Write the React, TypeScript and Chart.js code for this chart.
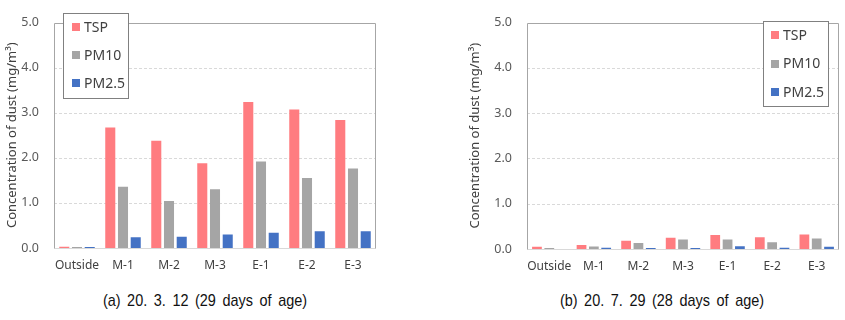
import React, { useEffect, useRef } from "react";
import { Chart, registerables } from "chart.js";

Chart.register(...registerables);

// Sampling points and series
const categories = ["Outside", "M-1", "M-2", "M-3", "E-1", "E-2", "E-3"];
const seriesNames = ["TSP", "PM10", "PM2.5"];
const seriesColors = ["#FF7C80", "#A5A5A5", "#4472C4"];

// (a) 20. 3. 12 — mg/m³
const marchTSP = [0.03, 2.67, 2.38, 1.88, 3.24, 3.07, 2.84];
const marchPM10 = [0.02, 1.36, 1.04, 1.3, 1.92, 1.55, 1.76];
const marchPM25 = [0.02, 0.24, 0.25, 0.3, 0.34, 0.37, 0.37];

// (b) 20. 7. 29 — mg/m³
const julyTSP = [0.05, 0.09, 0.18, 0.25, 0.31, 0.26, 0.32];
const julyPM10 = [0.02, 0.055, 0.13, 0.21, 0.21, 0.15, 0.23];
const julyPM25 = [0, 0.03, 0.02, 0.02, 0.06, 0.03, 0.05];

const yMin = 0;
const yMax = 5;
const yStep = 1;
const yAxisTitle = "Concentration of dust (mg/m³)";
const captions = ["(a) 20. 3. 12 (29 days of age)", "(b) 20. 7. 29 (28 days of age)"];

const FONT = "'Noto Sans', 'Open Sans', sans-serif";

type Panel = {
  left: number;
  width: number;
  height: number;
  padLeft: number;
  padRight: number;
  padTop: number;
  yWidth: number;
  xHeight: number;
  legend: { x: number; y: number; w: number; h: number; sq: number; tx: number; row0: number; gap: number };
  values: number[][];
};

const panels: Panel[] = [
  {
    left: 0,
    width: 420,
    height: 285,
    padLeft: 0,
    padRight: 44,
    padTop: 8,
    yWidth: 54,
    xHeight: 37,
    legend: { x: 63, y: 13, w: 65, h: 85, sq: 9, tx: 21, row0: 14, gap: 28 },
    values: [marchTSP, marchPM10, marchPM25],
  },
  {
    left: 420,
    width: 425,
    height: 285,
    padLeft: 43,
    padRight: 6,
    padTop: 8,
    yWidth: 64,
    xHeight: 36,
    legend: { x: 343, y: 21, w: 65, h: 85, sq: 8, tx: 20, row0: 14, gap: 28.5 },
    values: [julyTSP, julyPM10, julyPM25],
  },
];

// Dashed horizontal grid plus the plot frame
const framePlugin = {
  id: "plotFrame",
  beforeDatasetsDraw(chart: any) {
    const { ctx, chartArea } = chart;
    const y = chart.scales.y;
    ctx.save();
    ctx.strokeStyle = "#D9D9D9";
    ctx.lineWidth = 1;
    ctx.setLineDash([3, 2]);
    for (let v = yMin + yStep; v < yMax; v += yStep) {
      const py = Math.round(y.getPixelForValue(v)) + 0.5;
      ctx.beginPath();
      ctx.moveTo(chartArea.left, py);
      ctx.lineTo(chartArea.right, py);
      ctx.stroke();
    }
    ctx.restore();
  },
  afterDatasetsDraw(chart: any) {
    const { ctx, chartArea } = chart;
    const y = chart.scales.y;
    const top = Math.round(y.getPixelForValue(yMax)) + 0.5;
    const bottom = Math.round(y.getPixelForValue(yMin)) + 0.5;
    const l = Math.round(chartArea.left) + 0.5;
    const r = Math.round(chartArea.right) - 0.5;
    ctx.save();
    ctx.setLineDash([]);
    ctx.lineWidth = 1;
    ctx.strokeStyle = "#D9D9D9";
    ctx.beginPath();
    ctx.moveTo(l, bottom);
    ctx.lineTo(r, bottom);
    ctx.stroke();
    ctx.strokeStyle = "#A6A6A6";
    ctx.beginPath();
    ctx.moveTo(l, bottom);
    ctx.lineTo(l, top);
    ctx.lineTo(r, top);
    ctx.lineTo(r, bottom);
    ctx.stroke();
    ctx.restore();
  },
};

// Boxed legend inside the plot area
const boxLegendPlugin = {
  id: "boxLegend",
  afterDraw(chart: any, _args: any, opts: any) {
    const { ctx } = chart;
    const { x, y, w, h, sq, tx, row0, gap } = opts;
    ctx.save();
    ctx.fillStyle = "#FFFFFF";
    ctx.fillRect(x, y, w, h);
    ctx.strokeStyle = "#808080";
    ctx.lineWidth = 1;
    ctx.strokeRect(x + 0.5, y + 0.5, w, h);
    ctx.font = `14px ${FONT}`;
    ctx.textBaseline = "middle";
    ctx.textAlign = "left";
    chart.data.datasets.forEach((ds: any, i: number) => {
      const cy = y + row0 + i * gap;
      ctx.fillStyle = ds.backgroundColor;
      ctx.fillRect(x + sq, Math.round(cy - 4), 8, 8);
      ctx.fillStyle = "#404040";
      ctx.fillText(ds.label, x + tx, cy + 1);
    });
    ctx.restore();
  },
};

function DustChart({ panel }: { panel: Panel }) {
  const ref = useRef<HTMLCanvasElement | null>(null);

  useEffect(() => {
    if (!ref.current) return;
    const chart = new Chart(ref.current, {
      type: "bar",
      data: {
        labels: categories,
        datasets: seriesNames.map((name, i) => ({
          label: name,
          data: panel.values[i],
          backgroundColor: seriesColors[i],
          borderWidth: 0,
          categoryPercentage: 0.83,
          barPercentage: 0.79,
        })),
      },
      options: {
        responsive: false,
        animation: false,
        devicePixelRatio: 1,
        layout: {
          padding: { left: panel.padLeft, right: panel.padRight, top: panel.padTop, bottom: 0 },
        },
        plugins: {
          legend: { display: false },
          tooltip: { enabled: false },
          boxLegend: panel.legend,
        } as any,
        scales: {
          x: {
            grid: { display: false, drawTicks: false },
            border: { display: false },
            ticks: {
              color: "#404040",
              font: { family: FONT, size: 12 },
              padding: 10,
              maxRotation: 0,
              autoSkip: false,
            },
            afterFit: (s: any) => {
              s.height = panel.xHeight;
            },
          },
          y: {
            min: yMin,
            max: yMax,
            grid: { display: false, drawTicks: false },
            border: { display: false },
            ticks: {
              stepSize: yStep,
              color: "#595959",
              padding: 15,
              font: { family: FONT, size: 12.5 },
              callback: (v: any) => Number(v).toFixed(1),
            },
            title: {
              display: true,
              text: yAxisTitle,
              color: "#404040",
              font: { family: FONT, size: 13 },
              padding: { top: 4, bottom: 4 },
            },
            afterFit: (s: any) => {
              s.width = panel.yWidth;
            },
          },
        },
      },
      plugins: [framePlugin, boxLegendPlugin],
    });
    return () => chart.destroy();
  }, [panel]);

  return (
    <canvas
      ref={ref}
      width={panel.width}
      height={panel.height}
      style={{ position: "absolute", left: panel.left, top: 0, width: panel.width, height: panel.height }}
    />
  );
}

export default function App() {
  return (
    <div
      style={{
        position: "fixed",
        left: 0,
        top: 0,
        width: 845,
        height: 320,
        background: "#FFFFFF",
        overflow: "hidden",
      }}
    >
      {panels.map((p, i) => (
        <DustChart key={i} panel={p} />
      ))}
      {captions.map((c, i) => (
        <div
          key={c}
          style={{
            position: "absolute",
            left: i === 0 ? 205 : 662,
            top: 291,
            transform: "translateX(-50%) scaleX(0.85)",
            whiteSpace: "nowrap",
            fontFamily: "'Liberation Sans', Arial, sans-serif",
            fontSize: 17,
            wordSpacing: 3,
            color: "#111111",
            lineHeight: "20px",
          }}
        >
          {c}
        </div>
      ))}
    </div>
  );
}
